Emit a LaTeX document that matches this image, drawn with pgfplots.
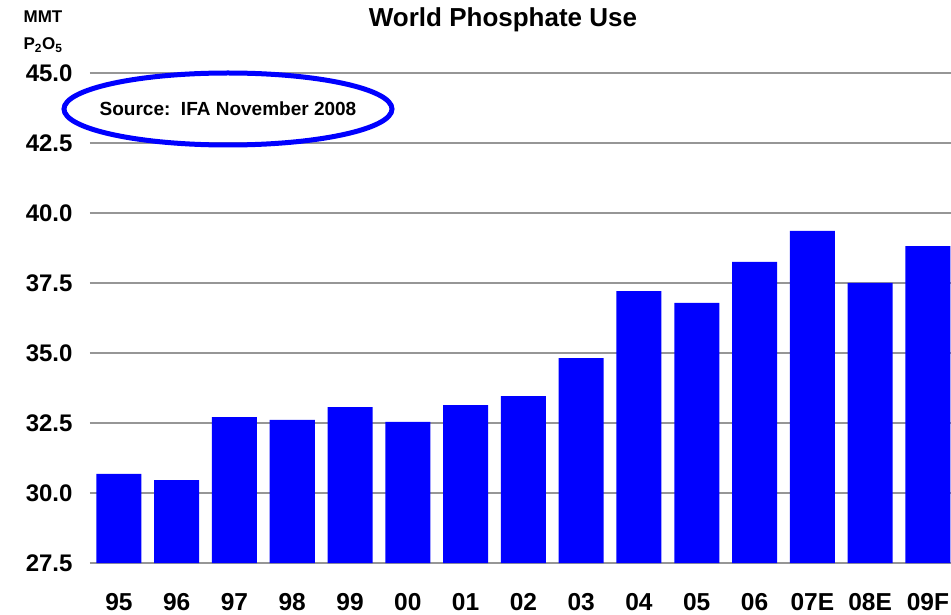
\documentclass[border=0pt]{standalone}
\usepackage{pgfplots}
\pgfplotsset{compat=1.18}
\usepackage{fontspec}
\setmainfont{Liberation Sans}
\definecolor{gridgray}{RGB}{150,150,150}
\begin{document}
\begin{tikzpicture}
\useasboundingbox (0pt,0pt) rectangle (951pt,614pt);
\begin{axis}[
  at={(90pt,51pt)}, anchor=south west,
  scale only axis, width=861pt, height=490pt,
  ymin=27.5, ymax=45, ytick={27.5,30,32.5,35,37.5,40,42.5,45},
  xmin=-0.5, xmax=14.4,
  xtick={0,...,14},
  xticklabels={95,96,97,98,99,00,01,02,03,04,05,06,07E,08E,09F},
  axis line style={draw=none},
  major tick length=0pt,
  tick style={draw=none},
  ymajorgrids,
  grid style={gridgray, line width=1.2pt},
  ybar, bar width=45pt,
  /pgf/number format/assume math mode=true,
  yticklabel={\pgfmathprintnumber[fixed,fixed zerofill,precision=1]{\tick}},
  yticklabel style={font=\fontsize{24}{24}\selectfont\bfseries, anchor=east, xshift=-14pt},
  xticklabel style={font=\fontsize{24.5}{24.5}\selectfont\bfseries, anchor=base, inner sep=0pt, yshift=-47pt},
]
\addplot[fill=blue, draw=none] coordinates {
(0,30.68) (1,30.46) (2,32.71) (3,32.61) (4,33.07) (5,32.54) (6,33.14) (7,33.46)
(8,34.82) (9,37.21) (10,36.79) (11,38.25) (12,39.36) (13,37.50) (14,38.82)
};
\end{axis}
\node[font=\fontsize{26}{26}\selectfont\bfseries] at (503pt,594pt) {World Phosphate Use};
\node[font=\fontsize{17}{17}\selectfont\bfseries] at (43pt,597pt) {MMT};
\node[font=\fontsize{17}{17}\selectfont\bfseries] at (43pt,569pt) {P\textsubscript{2}O\textsubscript{5}};
\draw[blue, line width=5pt] (228pt,505pt) ellipse [x radius=164pt, y radius=36pt];
\node[font=\fontsize{19}{19}\selectfont\bfseries] at (228pt,505pt) {Source:~~IFA November 2008};
\end{tikzpicture}
\end{document}
